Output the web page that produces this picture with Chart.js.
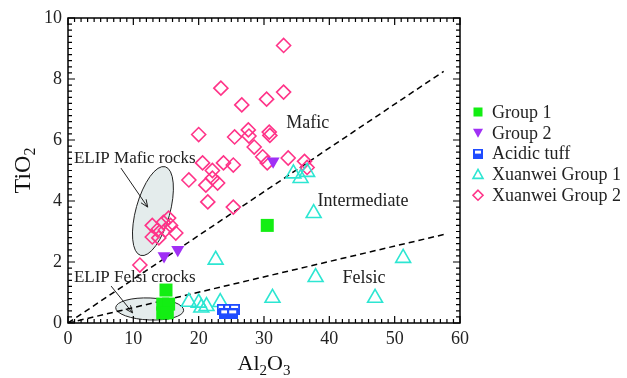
<!DOCTYPE html>
<html><head><meta charset="utf-8">
<script src="https://cdn.jsdelivr.net/npm/chart.js@4"></script>
<style>html,body{margin:0;padding:0;background:#fff}#wrap{width:627px;height:378px}</style>
</head><body><div id="wrap"><canvas id="c" width="627" height="378"></canvas></div>
<script>
// ---- data (Al2O3, TiO2) ----
const group1 = [[15.0,1.08],[14.5,0.62],[15.4,0.62],[14.5,0.33],[15.2,0.33],[30.5,3.2]];
const group2 = [[14.7,2.2],[16.8,2.4],[31.4,5.3]];
const acidicTuff = [[23.6,0.45],[24.6,0.45],[25.5,0.45],[24.0,0.3],[25.2,0.3]];
const xuanwei1 = [[18.5,0.69],[20.0,0.66],[20.4,0.5],[21.2,0.55],[23.3,0.68],[22.6,2.07],[31.3,0.82],
  [37.6,3.6],[37.9,1.5],[47.0,0.82],[51.3,2.13],[34.5,4.9],[35.6,4.75],[36.6,4.95]];
const xuanwei2 = [[33.0,9.1],[23.4,7.7],[26.6,7.15],[30.4,7.34],[33.0,7.57],[20.0,6.18],[25.5,6.1],
  [27.6,6.33],[27.7,6.13],[30.8,6.26],[30.9,6.15],[28.5,5.77],[29.8,5.45],[30.5,5.25],[33.7,5.41],
  [36.2,5.3],[36.6,5.1],[20.6,5.25],[23.8,5.25],[25.3,5.18],[22.1,5.0],[18.5,4.69],[21.1,4.52],
  [22.1,4.75],[22.9,4.59],[21.4,3.97],[25.3,3.8],[11.0,1.9],
  [12.9,3.2],[13.7,3.05],[12.9,2.82],[14.6,3.3],[15.4,3.44],[15.7,3.2],[14.9,3.05],[16.5,2.95],[13.9,2.79]];
const boundaryMafic = [[0,0],[57.5,8.25]];
const boundaryFelsic = [[0,0],[57.5,2.9]];
const seriesNames = ['Group 1','Group 2','Acidic tuff','Xuanwei Group 1','Xuanwei Group 2'];
const xTicks = [0,10,20,30,40,50,60];
const yTicks = [0,2,4,6,8,10];

const FONT = "'Liberation Serif', 'Times New Roman', serif";
Chart.defaults.font.family = FONT;
const toPts = a => a.map(p => ({x:p[0], y:p[1]}));

// custom marker for acidic tuff
function tuffMarker(s){
  const c = document.createElement('canvas'); c.width = s; c.height = s;
  const g = c.getContext('2d');
  g.fillStyle = '#1f4cff'; g.fillRect(0,0,s,s);
  g.fillStyle = '#ffffff'; g.fillRect(2,2,s-4,Math.round(s*0.3));
  return c;
}
const tuffImg = tuffMarker(11);
const tuffLegend = tuffMarker(10);

const styles = [
  {color:'#13ee13', style:'rect', r:9.2, fill:true, rot:0},
  {color:'#a030f5', style:'triangle', r:7.5, fill:true, rot:180},
  {color:'#1f4cff', style:tuffImg, r:6, fill:true, rot:0},
  {color:'#2de6d2', style:'triangle', r:8.6, fill:false, rot:0},
  {color:'#ff3388', style:'rectRot', r:7, fill:false, rot:0}
];
const seriesData = [group1, group2, acidicTuff, xuanwei1, xuanwei2];

const datasets = seriesData.map((d,i) => ({
  type:'scatter', label:seriesNames[i], data:toPts(d),
  pointStyle:styles[i].style, pointRadius:styles[i].r, pointRotation:styles[i].rot,
  pointBackgroundColor: styles[i].fill ? styles[i].color : 'rgba(0,0,0,0)',
  pointBorderColor: styles[i].color, pointBorderWidth: styles[i].fill ? 0 : 1.6,
  order: i
}));
[boundaryMafic, boundaryFelsic].forEach(b => datasets.push({
  type:'scatter', label:'', data:toPts(b), showLine:true, pointRadius:0,
  borderColor:'#000', borderWidth:1.5, borderDash:[6,4], order:10
}));

// annotations (data coordinates)
const ellipses = [
  {cx:13.0, cy:3.67, rx:17, ry:46, rot:0.27},
  {cx:12.5, cy:0.46, rx:34, ry:11, rot:0.04}
];
const arrows = [
  {x1:8.1, y1:5.08, x2:12.2, y2:3.8},
  {x1:6.6, y1:1.21, x2:9.9, y2:0.33}
];
const labels = [
  {t:'ELIP Mafic rocks', x:0.9, y:5.25, s:17},
  {t:'ELIP Felsi crocks', x:0.9, y:1.34, s:17},
  {t:'Mafic', x:33.4, y:6.39, s:18},
  {t:'Intermediate', x:38.2, y:3.84, s:18},
  {t:'Felsic', x:42.0, y:1.31, s:18}
];

const deco = {
  id:'deco',
  beforeDatasetsDraw(chart){
    const {ctx, scales:{x,y}} = chart;
    ctx.save();
    ellipses.forEach(e => {
      ctx.beginPath();
      ctx.ellipse(x.getPixelForValue(e.cx), y.getPixelForValue(e.cy), e.rx, e.ry, e.rot, 0, Math.PI*2);
      ctx.fillStyle = '#e4ecec'; ctx.fill();
      ctx.lineWidth = 1; ctx.strokeStyle = '#222'; ctx.stroke();
    });
    arrows.forEach(a => {
      const x1 = x.getPixelForValue(a.x1), y1 = y.getPixelForValue(a.y1);
      const x2 = x.getPixelForValue(a.x2), y2 = y.getPixelForValue(a.y2);
      ctx.beginPath(); ctx.moveTo(x1,y1); ctx.lineTo(x2,y2);
      ctx.lineWidth = 1; ctx.strokeStyle = '#222'; ctx.stroke();
      const ang = Math.atan2(y2-y1, x2-x1), L = 8;
      ctx.beginPath();
      ctx.moveTo(x2 - L*Math.cos(ang-0.4), y2 - L*Math.sin(ang-0.4));
      ctx.lineTo(x2,y2);
      ctx.lineTo(x2 - L*Math.cos(ang+0.4), y2 - L*Math.sin(ang+0.4));
      ctx.stroke();
    });
    ctx.restore();
  },
  afterDatasetsDraw(chart){
    const {ctx, chartArea:ca, scales:{x,y}} = chart;
    ctx.save();
    ctx.fillStyle = '#222'; ctx.textBaseline = 'alphabetic'; ctx.textAlign = 'left';
    labels.forEach(l => {
      ctx.font = l.s + 'px ' + FONT;
      ctx.fillText(l.t, x.getPixelForValue(l.x), y.getPixelForValue(l.y));
    });
    // frame & inward ticks
    ctx.strokeStyle = '#000'; ctx.lineWidth = 1.5;
    ctx.strokeRect(ca.left, ca.top, ca.right-ca.left, ca.bottom-ca.top);
    ctx.lineWidth = 1.2;
    ctx.beginPath();
    for (let v = 0; v <= 60; v += 1) {
      const px = x.getPixelForValue(v), L = (v % 10 === 0) ? 7 : 4;
      ctx.moveTo(px, ca.bottom); ctx.lineTo(px, ca.bottom - L);
      ctx.moveTo(px, ca.top); ctx.lineTo(px, ca.top + L);
    }
    for (let k = 0; k <= 50; k++) {
      const v = k*0.2, py = y.getPixelForValue(v), L = (k % 10 === 0) ? 7 : 4;
      ctx.moveTo(ca.left, py); ctx.lineTo(ca.left + L, py);
      ctx.moveTo(ca.right, py); ctx.lineTo(ca.right - L, py);
    }
    ctx.stroke();
    // axis titles with subscripts
    function sub(parts, big, small){
      let w = 0;
      parts.forEach(p => { ctx.font = (p[1] ? small : big) + 'px ' + FONT; w += ctx.measureText(p[0]).width; });
      return w;
    }
    function drawSub(parts, big, small, cx, base){
      const w = sub(parts, big, small); let px = cx - w/2;
      parts.forEach(p => {
        ctx.font = (p[1] ? small : big) + 'px ' + FONT;
        ctx.fillText(p[0], px, base + (p[1] ? 5 : 0));
        px += ctx.measureText(p[0]).width;
      });
    }
    ctx.fillStyle = '#111';
    drawSub([['Al',0],['2',1],['O',0],['3',1]], 22, 15, (ca.left+ca.right)/2, 370);
    ctx.save();
    ctx.translate(30, (ca.top+ca.bottom)/2); ctx.rotate(-Math.PI/2);
    drawSub([['TiO',0],['2',1]], 24, 16, 0, 0);
    ctx.restore();
    // legend
    const lx = 478, ly0 = 112, dy = 20.8;
    ctx.font = '18px ' + FONT; ctx.textBaseline = 'middle';
    seriesNames.forEach((n,i) => {
      const cy = ly0 + i*dy, st = styles[i];
      ctx.fillStyle = st.color; ctx.strokeStyle = st.color; ctx.lineWidth = 1.6;
      ctx.beginPath();
      if (i === 0) { ctx.fillRect(lx-4.5, cy-4.5, 9, 9); }
      else if (i === 1) { ctx.moveTo(lx-5, cy-4); ctx.lineTo(lx+5, cy-4); ctx.lineTo(lx, cy+5); ctx.closePath(); ctx.fill(); }
      else if (i === 2) { ctx.drawImage(tuffLegend, lx-5, cy-5); }
      else if (i === 3) { ctx.moveTo(lx, cy-5); ctx.lineTo(lx+5, cy+4); ctx.lineTo(lx-5, cy+4); ctx.closePath(); ctx.stroke(); }
      else { ctx.moveTo(lx, cy-5); ctx.lineTo(lx+5, cy); ctx.lineTo(lx, cy+5); ctx.lineTo(lx-5, cy); ctx.closePath(); ctx.stroke(); }
      ctx.fillStyle = '#222';
      ctx.fillText(n, 492, cy + 1);
    });
    ctx.restore();
  }
};

new Chart(document.getElementById('c'), {
  type:'scatter',
  data:{datasets},
  options:{
    responsive:false, animation:false, devicePixelRatio:1,
    layout:{padding:{left:0, top:18, right:167, bottom:0}},
    plugins:{legend:{display:false}, tooltip:{enabled:false}},
    scales:{
      x:{type:'linear', min:0, max:60,
        afterBuildTicks: s => { s.ticks = xTicks.map(v => ({value:v})); },
        afterFit: s => { s.height = 55; },
        ticks:{font:{family:FONT, size:18}, color:'#222', padding:5, maxRotation:0},
        grid:{display:false, drawTicks:false}, border:{display:false}},
      y:{type:'linear', min:0, max:10,
        afterBuildTicks: s => { s.ticks = yTicks.map(v => ({value:v})); },
        afterFit: s => { s.width = 68; },
        ticks:{font:{family:FONT, size:18}, color:'#222', padding:6},
        grid:{display:false, drawTicks:false}, border:{display:false}}
    }
  },
  plugins:[deco]
});
</script></body></html>
